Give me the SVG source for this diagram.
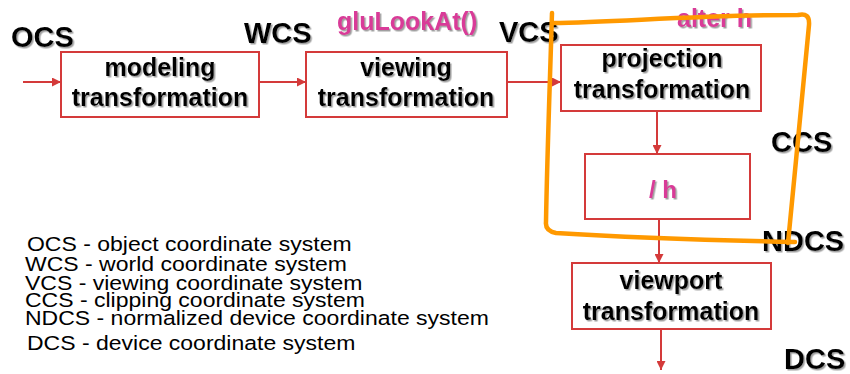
<svg xmlns="http://www.w3.org/2000/svg" width="850" height="374" viewBox="0 0 850 374">
<style>
  .box { fill: #ffffff; stroke: #d43a3a; stroke-width: 2; }
  .bt { font-family: "Liberation Sans", Arial, sans-serif; font-weight: bold; font-size: 25px; fill: #000; text-anchor: middle; filter: url(#sh); }
  .lab { font-family: "Liberation Sans", Arial, sans-serif; font-weight: bold; font-size: 29px; fill: #000; filter: url(#sh); }
  .mag { font-family: "Liberation Sans", Arial, sans-serif; font-weight: bold; font-size: 25px; fill: #d93a98; filter: url(#sh); }
  .leg { font-family: "Liberation Sans", Arial, sans-serif; font-size: 23px; fill: #000; }
  .con { stroke: #d43a3a; stroke-width: 2; fill: none; marker-end: url(#ah); }
  .loop { stroke: #ff9900; stroke-width: 4.5; fill: none; stroke-linecap: round; stroke-linejoin: round; }
</style>
<defs>
  <marker id="ah" viewBox="0 0 10 10" refX="10" refY="5" markerWidth="4.5" markerHeight="4.5" orient="auto" markerUnits="strokeWidth">
    <path d="M0,0 L10,5 L0,10 z" fill="#d43a3a"/>
  </marker>
  <filter id="sh" x="-10%" y="-20%" width="120%" height="150%">
    <feDropShadow dx="1.5" dy="1.5" stdDeviation="0.7" flood-color="#888" flood-opacity="0.8"/>
  </filter>
</defs>
<rect width="850" height="374" fill="#ffffff"/>

<g id="connectors">
  <line class="con" x1="23" y1="82" x2="61" y2="82"/>
  <line class="con" x1="259" y1="82" x2="306" y2="82"/>
  <line class="con" x1="507" y1="82" x2="561" y2="82"/>
  <line class="con" x1="657" y1="111" x2="657" y2="154"/>
  <line class="con" x1="659" y1="219" x2="659" y2="263"/>
  <line class="con" x1="661" y1="329" x2="661" y2="370"/>
</g>

<g id="modeling">
  <rect class="box" x="61" y="52" width="198" height="65"/>
  <text class="bt" x="160" y="76">modeling</text>
  <text class="bt" x="160" y="106">transformation</text>
</g>
<g id="viewing">
  <rect class="box" x="306" y="52" width="201" height="65"/>
  <text class="bt" x="406" y="76">viewing</text>
  <text class="bt" x="406" y="106">transformation</text>
</g>
<g id="projection">
  <rect class="box" x="561" y="45" width="200" height="66"/>
  <text class="bt" x="662" y="67">projection</text>
  <text class="bt" x="662" y="98">transformation</text>
</g>
<g id="divide">
  <rect class="box" x="585" y="154" width="165" height="65"/>
  <text class="mag" x="663" y="198" text-anchor="middle" style="font-size:24px">/ h</text>
</g>
<g id="viewport">
  <rect class="box" x="572" y="263" width="199" height="66"/>
  <text class="bt" x="671" y="289">viewport</text>
  <text class="bt" x="671" y="320">transformation</text>
</g>

<g id="labels">
  <text class="lab" x="11" y="47">OCS</text>
  <text class="lab" x="244" y="43">WCS</text>
  <text class="mag" x="337" y="30">gluLookAt()</text>
  <text class="lab" x="499" y="42">VCS</text>
  <text class="mag" x="677" y="27">alter h</text>
  <text class="lab" x="771" y="152">CCS</text>
  <text class="lab" x="762" y="251">NDCS</text>
  <text class="lab" x="784" y="369">DCS</text>
</g>

<g id="legend" transform="scale(1,0.9)">
  <text class="leg" x="27" y="279">OCS - object coordinate system</text>
  <text class="leg" x="25" y="301">WCS - world coordinate system</text>
  <text class="leg" x="25" y="322">VCS - viewing coordinate system</text>
  <text class="leg" x="25" y="341">CCS - clipping coordinate system</text>
  <text class="leg" x="25" y="361">NDCS - normalized device coordinate system</text>
  <text class="leg" x="27" y="389">DCS - device coordinate system</text>
</g>

<g id="highlight">
  <path class="loop" d="M552,13 C550,80 547,160 546,222 Q545,231 556,233 C620,237 700,240 795,242 M788,243 C795,170 802,100 809,25 Q810,12 798,15 C700,15 620,22 553,23"/>
</g>
</svg>
